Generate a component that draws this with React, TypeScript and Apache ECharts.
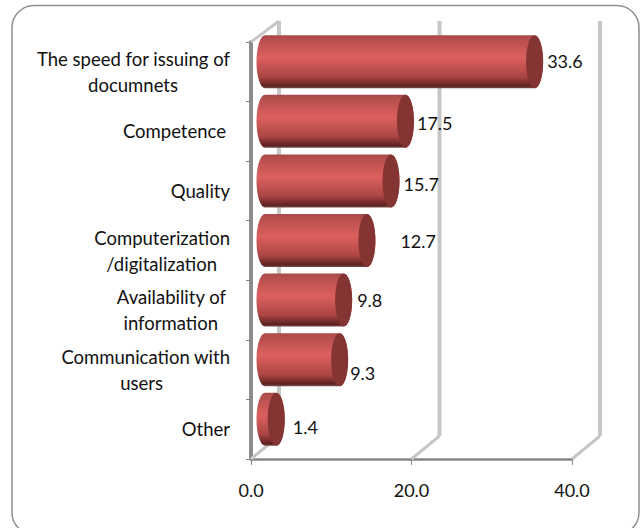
import React, { useEffect, useRef } from "react";
import * as echarts from "echarts";

const categories = [
  "The speed for issuing of\ndocumnets",
  "Competence",
  "Quality",
  "Computerization\n/digitalization",
  "Availability of\ninformation",
  "Communication with\nusers",
  "Other",
];
const values = [33.6, 17.5, 15.7, 12.7, 9.8, 9.3, 1.4];
const wallTicks = [0, 20, 40];

// placement nudges of the hand-moved labels of the original
const labelGapX = [4, 3, 4, 25, 5, 2, 8];
const labelGapY = [-1, 2, 3, 0, 0, 13, 8];
// right-hand inset of each line of each category label
const lineInsets = [[0, 52], [4], [0], [0, 13], [4, 12], [0, 67], [0]];

const FONT = "Lato";
const LABEL_SIZE = 18.5;
const VALUE_SIZE = 18;
const DEPTH_X = 28;
const DEPTH_Y = 21;
const SHIFT_X = 14;
const SHIFT_Y = 10;
const RX = 8.5;
const RY = 26.5;

const richStyles: Record<string, any> = {};
lineInsets.flat().forEach((p) => {
  richStyles["p" + p] = { align: "right", padding: [0, p, 0, 0], fontFamily: FONT, fontSize: LABEL_SIZE, color: "#111", lineHeight: 26 };
});

const bodyFill = new echarts.graphic.LinearGradient(0, 0, 0, 1, [
  { offset: 0, color: "#a84a48" },
  { offset: 0.08, color: "#b64f4d" },
  { offset: 0.42, color: "#dc605e" },
  { offset: 0.78, color: "#ac4644" },
  { offset: 0.96, color: "#5e2120" },
  { offset: 1, color: "#7a4f4e" },
]);

export default function App() {
  const ref = useRef<HTMLDivElement>(null);
  useEffect(() => {
    const chart = echarts.init(ref.current!, null, { renderer: "svg" });
    chart.setOption({
      animation: false,
      backgroundColor: "#fff",
      graphic: [
        {
          type: "rect",
          z: -1,
          shape: { x: 12, y: 5.5, width: 627, height: 529, r: 22 },
          style: { fill: "#fff", stroke: "#8f8f8f", lineWidth: 1.5 },
        },
      ],
      grid: { left: 251, top: 42, width: 321, height: 417, containLabel: false },
      xAxis: {
        type: "value",
        min: 0,
        max: 40,
        interval: 20,
        splitLine: { show: false },
        axisLine: { show: true, lineStyle: { color: "#868686", width: 2.5 } },
        axisTick: { show: true, length: 6, lineStyle: { color: "#868686", width: 1 } },
        axisLabel: {
          margin: 22,
          fontFamily: FONT,
          fontSize: VALUE_SIZE,
          color: "#111",
          formatter: (v: number) => v.toFixed(1),
        },
      },
      yAxis: {
        type: "category",
        inverse: true,
        data: categories,
        axisLine: { show: true, lineStyle: { color: "#8c8c8c", width: 4 } },
        axisTick: { show: true, length: 5, lineStyle: { color: "#868686", width: 1 } },
        axisLabel: {
          margin: 21,
          fontFamily: FONT,
          fontSize: LABEL_SIZE,
          color: "#111",
          formatter: (_: string, i: number) =>
            categories[i]
              .split("\n")
              .map((line, k) => `{p${lineInsets[i][k]}|${line}}`)
              .join("\n"),
          rich: richStyles,
        },
      },
      series: [
        {
          type: "custom",
          name: "walls",
          coordinateSystem: "cartesian2d",
          silent: true,
          z: 1,
          data: wallTicks.map((t) => [t]),
          encode: { x: 0 },
          renderItem: (_p: any, api: any) => {
            const x = api.coord([api.value(0), 0])[0];
            const top = 42;
            const bottom = 459;
            const stroke = "#c6c6c6";
            const lines: any[] = [
              { type: "line", shape: { x1: x, y1: bottom, x2: x + DEPTH_X, y2: bottom - DEPTH_Y - 2 }, style: { stroke, lineWidth: 3 } },
              { type: "line", shape: { x1: x + DEPTH_X, y1: top - DEPTH_Y, x2: x + DEPTH_X, y2: bottom - DEPTH_Y - 2 }, style: { stroke, lineWidth: 4 } },
            ];
            if (api.value(0) === 0) {
              lines.push({ type: "line", shape: { x1: x, y1: top, x2: x + DEPTH_X, y2: top - DEPTH_Y }, style: { stroke, lineWidth: 3 } });
            }
            return { type: "group", children: lines };
          },
        },
        {
          type: "custom",
          name: "bars",
          coordinateSystem: "cartesian2d",
          z: 3,
          data: values.map((v, i) => [v, i]),
          encode: { x: 0, y: 1 },
          renderItem: (p: any, api: any) => {
            const i = p.dataIndex;
            const start = api.coord([0, i]);
            const end = api.coord([api.value(0), i]);
            const cy = start[1] - SHIFT_Y;
            const x0 = start[0] + SHIFT_X;
            const x1 = end[0] + SHIFT_X;
            const y0 = cy - RY;
            const body =
              `M${x0} ${y0} L${x1} ${y0} A${RX} ${RY} 0 0 1 ${x1} ${y0 + 2 * RY} ` +
              `L${x0} ${y0 + 2 * RY} A${RX} ${RY} 0 0 1 ${x0} ${y0} Z`;
            return {
              type: "group",
              children: [
                { type: "path", shape: { pathData: body, layout: "cover", x: x0 - RX, y: y0, width: x1 - x0 + 2 * RX, height: 2 * RY }, style: { fill: bodyFill } },
                { type: "ellipse", shape: { cx: x1, cy, rx: RX, ry: RY }, style: { fill: "#843432" } },
                {
                  type: "text",
                  style: {
                    text: api.value(0).toFixed(1),
                    x: x1 + RX + labelGapX[i],
                    y: cy + labelGapY[i],
                    verticalAlign: "middle",
                    align: "left",
                    fontFamily: FONT,
                    fontSize: VALUE_SIZE,
                    fill: "#111",
                  },
                },
              ],
            };
          },
        },
      ],
    });
    return () => chart.dispose();
  }, []);
  return <div ref={ref} style={{ position: "absolute", left: 0, top: 0, width: 644, height: 528 }} />;
}
